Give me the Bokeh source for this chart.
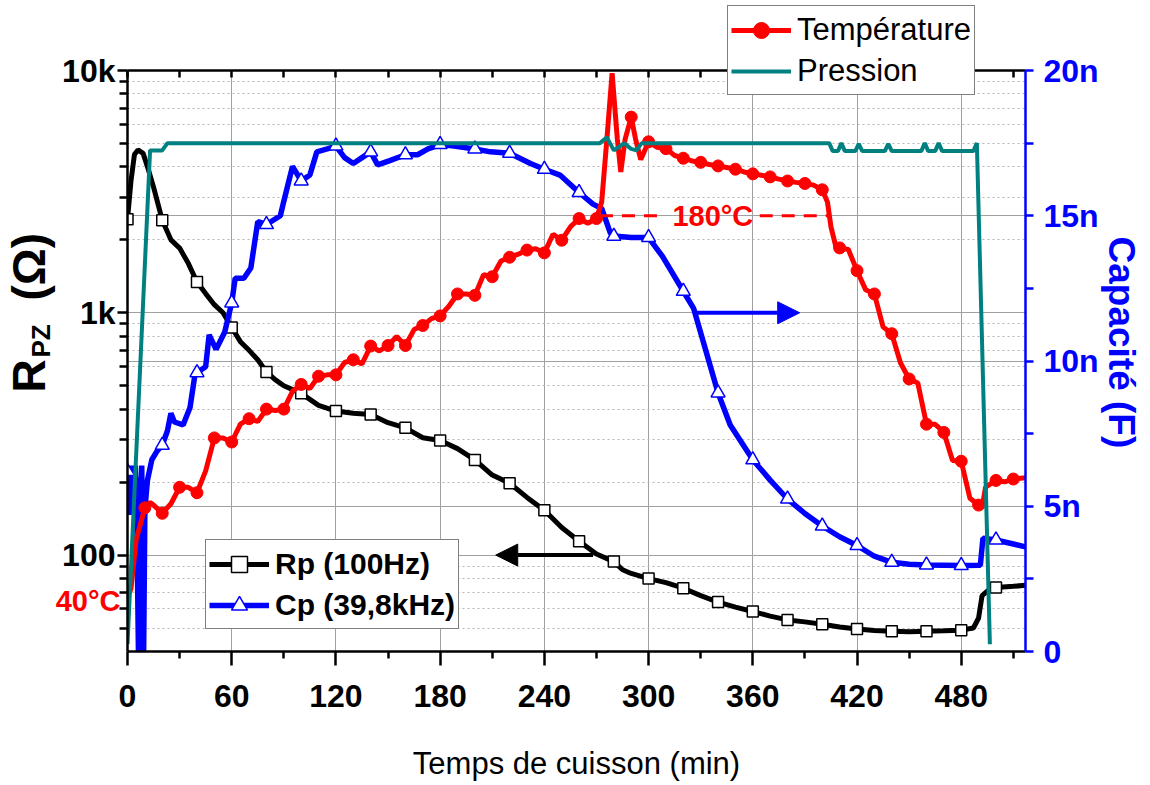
import numpy as np
from math import pi
from bokeh.plotting import figure
from bokeh.layouts import column
from bokeh.models import (Range1d, LinearAxis, LinearScale, FixedTicker, Grid, Legend,
                          LegendItem, Label, Arrow, NormalHead)
from bokeh.embed import file_html
from bokeh.resources import INLINE

FONT = "Liberation Sans"

# ---------------- data ----------------
# Rp (100 Hz) resistance, ohms (left log axis)
rp_t = [0, 2, 4, 6, 9, 12, 15, 20, 25, 30, 35, 40, 45, 50, 55, 60, 65, 70, 75, 80, 85, 90,
        100, 110, 120, 130, 140, 150, 160, 170, 180, 190, 200, 210, 220, 230, 240, 250, 260,
        270, 280, 285, 290, 300, 310, 320, 330, 340, 350, 360, 370, 380, 390, 400, 410, 420,
        430, 440, 450, 460, 470, 480, 487, 490, 492, 496, 500, 510, 517]
rp_ohm = [2430, 3500, 4500, 4700, 4550, 3900, 3300, 2410, 2000, 1850, 1600, 1340, 1200, 1080,
          1000, 870, 760, 700, 640, 570, 530, 500, 465, 415, 393, 385, 380, 352, 335, 305, 297,
          275, 247, 214, 198, 173, 153, 130, 114, 101, 94, 87, 84, 80, 77, 73, 68, 64, 61, 58.5,
          56, 54, 53, 51.8, 50.5, 49.5, 48.8, 48.5, 48.3, 48.5, 48.7, 49, 50, 55, 68, 72, 73.5,
          74.3, 75]

# Cp (39,8 kHz) capacitance, nF (right axis)
cp_t = [0, 0.8, 1.5, 2.3, 3, 3.8, 4.5, 5.3, 6.3, 6.8, 7.5, 8.2, 9.3, 10, 11.5, 14, 17, 20, 23,
        25, 27, 32, 36, 39, 40, 45, 47, 51, 56, 60, 62, 67, 71, 75, 80, 88, 90, 95, 100, 105,
        109, 115, 120, 125, 130, 135, 140, 144, 151, 160, 167, 173, 180, 188, 200, 209, 220,
        232, 240, 249, 260, 268, 273, 278, 280, 290, 300, 308, 320, 326, 340, 347, 360, 370,
        380, 390, 400, 410, 420, 430, 440, 450, 460, 470, 480, 491, 492.5, 500, 510, 517]
cp_nF = [6.2, 4.7, 6.4, 4.7, 6.3, 4.7, 6.4, 4.8, 0, 6.0, 4.8, 6.4, 0, 4.9, 5.9, 6.6, 6.9, 7.1,
         7.6, 8.2, 7.9, 7.8, 8.4, 9.6, 9.6, 9.8, 10.9, 10.4, 11.0, 12.0, 12.85, 12.85, 13.2,
         14.8, 14.7, 15.0, 15.5, 16.7, 16.2, 16.4, 17.2, 17.3, 17.4, 17.0, 16.8, 17.0, 17.2,
         16.75, 16.9, 17.1, 17.1, 17.3, 17.45, 17.4, 17.3, 17.2, 17.15, 16.8, 16.6, 16.4, 15.8,
         15.4, 15.25, 14.4, 14.3, 14.25, 14.25, 13.6, 12.4, 11.8, 8.9, 7.8, 6.6, 5.9, 5.25,
         4.75, 4.32, 3.95, 3.65, 3.28, 3.07, 3.0, 2.98, 2.97, 2.96, 2.97, 3.9, 3.84, 3.7, 3.6]

# Temperature, degC (hidden axis)
temp_t = [0, 2, 5, 10, 13, 15, 20, 25, 30, 35, 40, 45, 50, 55, 60, 65, 70, 75, 80, 85, 90, 95,
          100, 105, 110, 115, 120, 125, 130, 135, 140, 145, 150, 155, 160, 165, 170, 175, 180,
          185, 190, 195, 200, 205, 210, 215, 220, 225, 230, 235, 240, 245, 250, 255, 260, 265,
          270, 273, 276, 279, 282, 284, 286.5, 290, 292.5, 295.5, 300, 305, 310, 315, 320, 325,
          330, 335, 340, 345, 350, 355, 360, 365, 370, 375, 380, 385, 390, 395, 400, 403, 405,
          408, 410, 415, 420, 425, 430, 435, 440, 445, 450, 455, 460, 465, 470, 475, 480, 485,
          490, 492, 494, 500, 505, 510, 517]
temp_C = [41, 44, 62, 73.5, 75.5, 74.5, 71.5, 75, 81, 81, 79, 87, 99, 99, 97.5, 104, 106, 105,
          109.5, 109, 109.5, 116, 118.5, 117, 121.5, 122, 122, 126.5, 127.5, 126, 132.5, 130.7,
          132.7, 136, 132.7, 138.5, 140, 142.5, 143.5, 147, 151.5, 151.5, 151, 158.5, 157.8,
          163.5, 164.9, 166, 167.5, 168, 166.5, 173.3, 171.1, 176, 179, 177.3, 179, 185, 208,
          232, 208, 196, 208, 216, 208, 200.5, 207, 205, 204.5, 202, 201, 200, 199.5, 198.7,
          198.2, 197.6, 197, 196, 195.3, 194.8, 194.2, 193.4, 192.7, 192.2, 191.8, 191.2, 189.5,
          185, 176, 168.3, 168.3, 167.7, 160, 153, 151.5, 139.5, 137, 126.4, 120.5, 119, 104,
          104, 101, 90.8, 90.5, 77, 74.5, 73.5, 81, 83.5, 83, 84, 84.5]

# Pressure, bar (hidden axis)
pres_t = [0, 13, 20, 23, 272, 276, 280, 283, 286, 290, 293, 296, 404, 406, 409, 411, 413, 419,
          421, 423, 436, 438, 440, 457, 459, 461, 465, 467, 469, 487, 489, 496.5]
pres_bar = [0.1, 6.9, 6.9, 7.0, 7.0, 7.08, 6.9, 6.95, 7.0, 6.92, 6.9, 7.0, 7.0, 6.89, 6.89, 7.0,
            6.89, 6.89, 6.99, 6.89, 6.89, 6.99, 6.89, 6.89, 7.0, 6.89, 6.89, 7.0, 6.89, 6.89,
            7.0, 0.1]

# ticks
x_major = [0, 60, 120, 180, 240, 300, 360, 420, 480]
x_minor = [30, 90, 150, 210, 270, 330, 390, 450, 510]
x_top = [0, 30, 60, 90, 120, 150, 180, 210, 240, 270, 300, 330, 360, 390, 420, 450, 480, 510]
r_major = [100, 1000, 10000]
r_major_labels = ["100", "1k", "10k"]
r_minor = [50, 60, 70, 80, 90, 200, 300, 400, 500, 600, 700, 800, 900,
           2000, 3000, 4000, 5000, 6000, 7000, 8000, 9000]
c_major = [0, 5, 10, 15, 20]
c_major_labels = ["0", "5n", "10n", "15n", "20n"]
c_minor = [2.5, 7.5, 12.5, 17.5]

# annotations
setpoint_C = 180
setpoint_left = [272, 310]
setpoint_right = [364, 404]
setpoint_text_t = 337
arrow_rp = dict(x_start=268, x_end=212, y=100)
arrow_cp = dict(x_start=326, x_end=387, y=1000)

RED = "#ff0000"
BLUE = "#0000ff"
TEAL = "#008080"
GRID = "#a0a0a0"

W, H = 1148, 783

rp_t_a, rp_a = np.array(rp_t), np.array(rp_ohm)
cp_t_a, cp_a = np.array(cp_t), np.array(cp_nF)
tt_a, tc_a = np.array(temp_t), np.array(temp_C)
m_rp = (rp_t_a % 20 == 0)
m_cp = (cp_t_a % 20 == 0)
m_tc = (tt_a % 10 == 0) & (tt_a > 0)

p = figure(width=W, height=H, output_backend="svg", toolbar_location=None,
           x_range=Range1d(0, 517), y_range=Range1d(40, 10000), y_axis_type="log",
           min_border_left=127, min_border_right=123, min_border_top=70,
           min_border_bottom=131)
p.frame_align = False
p.extra_y_ranges = {"cap": Range1d(0, 20), "temp": Range1d(21.1, 233.0),
                    "pres": Range1d(0, 8)}
p.extra_y_scales = {"cap": LinearScale(), "temp": LinearScale(), "pres": LinearScale()}
p.outline_line_color = None
p.background_fill_color = "white"
p.border_fill_color = "white"

# ---- bottom axis
ax_b = p.below[0]
ax_b.ticker = FixedTicker(ticks=x_major, minor_ticks=x_minor)
ax_b.axis_label = "Temps de cuisson (min)"
ax_b.axis_label_text_font = FONT
ax_b.axis_label_text_font_size = "31px"
ax_b.axis_label_text_font_style = "normal"
ax_b.axis_label_text_color = "black"
ax_b.axis_label_standoff = 36
ax_b.major_label_text_font = FONT
ax_b.major_label_text_font_size = "32px"
ax_b.major_label_text_font_style = "bold"
ax_b.major_label_text_color = "black"
ax_b.major_label_standoff = 19
ax_b.major_tick_out = 14
ax_b.major_tick_in = 0
ax_b.minor_tick_out = 7
ax_b.minor_tick_in = 0
ax_b.axis_line_width = 2.5
ax_b.major_tick_line_width = 2.5
ax_b.minor_tick_line_width = 2.5

# ---- left axis
ax_l = p.left[0]
ax_l.ticker = FixedTicker(ticks=r_major, minor_ticks=r_minor)
ax_l.major_label_overrides = dict(zip(r_major, r_major_labels))
ax_l.major_label_text_font = FONT
ax_l.major_label_text_font_size = "32px"
ax_l.major_label_text_font_style = "bold"
ax_l.major_label_text_color = "black"
ax_l.major_label_standoff = 2
ax_l.major_tick_out = 10
ax_l.major_tick_in = 0
ax_l.minor_tick_out = 8
ax_l.minor_tick_in = 0
ax_l.axis_line_width = 2.5
ax_l.major_tick_line_width = 2.5
ax_l.minor_tick_line_width = 2.5

# ---- grids
p.xgrid.ticker = FixedTicker(ticks=x_major[1:])
p.xgrid.grid_line_color = GRID
p.xgrid.grid_line_width = 1
p.ygrid.ticker = FixedTicker(ticks=r_major, minor_ticks=r_minor)
p.ygrid.grid_line_color = GRID
p.ygrid.grid_line_width = 1
p.ygrid.minor_grid_line_color = "#b4b4b4"
p.ygrid.minor_grid_line_dash = "2 3"
p.ygrid.minor_grid_line_width = 1
cap_grid = Grid(dimension=1, y_range_name="cap", ticker=FixedTicker(ticks=c_major[1:-1]),
                grid_line_color=GRID, grid_line_width=1)
p.add_layout(cap_grid)

# ---- right axis (capacitance)
ax_r = LinearAxis(y_range_name="cap", ticker=FixedTicker(ticks=c_major, minor_ticks=c_minor))
ax_r.major_label_overrides = dict(zip(c_major, c_major_labels))
ax_r.major_label_text_font = FONT
ax_r.major_label_text_font_size = "32px"
ax_r.major_label_text_font_style = "bold"
ax_r.major_label_text_color = BLUE
ax_r.major_label_standoff = 10
ax_r.axis_line_color = BLUE
ax_r.major_tick_line_color = BLUE
ax_r.minor_tick_line_color = BLUE
ax_r.axis_line_width = 2.5
ax_r.major_tick_line_width = 2.5
ax_r.minor_tick_line_width = 2.5
ax_r.major_tick_out = 8
ax_r.major_tick_in = 0
ax_r.minor_tick_out = 8
ax_r.minor_tick_in = 0
p.add_layout(ax_r, "right")

# ---- top axis (ticks only)
ax_t = LinearAxis(ticker=FixedTicker(ticks=x_top))
ax_t.major_label_overrides = {t: "" for t in x_top}
ax_t.major_label_text_font_size = "1px"
ax_t.major_tick_in = 7
ax_t.major_tick_out = 0
ax_t.minor_tick_line_color = None
ax_t.axis_line_width = 2.5
ax_t.major_tick_line_width = 2.5
p.add_layout(ax_t, "above")

# ---- series
r_rp = p.line(rp_t, rp_ohm, line_color="black", line_width=5)
r_rp_m = p.scatter(rp_t_a[m_rp], rp_a[m_rp], marker="square", size=11,
                   fill_color="white", line_color="black", line_width=1.5)

r_cp = p.line(cp_t, cp_nF, y_range_name="cap", line_color=BLUE, line_width=5.5)
r_cp_m = p.scatter(cp_t_a[m_cp], cp_a[m_cp], y_range_name="cap", marker="triangle", size=14,
                   fill_color="white", line_color=BLUE, line_width=1.5)

r_tc = p.line(temp_t, temp_C, y_range_name="temp", line_color=RED, line_width=5)
r_tc_m = p.scatter(tt_a[m_tc], tc_a[m_tc], y_range_name="temp", marker="circle", size=12,
                   fill_color=RED, line_color=RED)

r_pr = p.line(pres_t, pres_bar, y_range_name="pres", line_color=TEAL, line_width=4)

# setpoint dashed line + text
for seg in (setpoint_left, setpoint_right):
    p.line(seg, [setpoint_C, setpoint_C], y_range_name="temp", line_color=RED,
           line_width=3, line_dash="13 9")
p.add_layout(Label(x=setpoint_text_t, y=setpoint_C, y_range_name="temp", text="180°C",
                   text_align="center", text_baseline="middle", text_color=RED,
                   text_font=FONT, text_font_size="29px", text_font_style="bold"))

# arrows
p.add_layout(Arrow(end=NormalHead(size=22, fill_color="black", line_color="black"),
                   x_start=arrow_rp["x_start"], y_start=arrow_rp["y"],
                   x_end=arrow_rp["x_end"], y_end=arrow_rp["y"],
                   line_color="black", line_width=4))
p.add_layout(Arrow(end=NormalHead(size=22, fill_color=BLUE, line_color=BLUE),
                   x_start=arrow_cp["x_start"], y_start=arrow_cp["y"],
                   x_end=arrow_cp["x_end"], y_end=arrow_cp["y"],
                   line_color=BLUE, line_width=4))

# lower legend (inside the frame)
leg2 = Legend(items=[LegendItem(label="Rp (100Hz)", renderers=[r_rp, r_rp_m]),
                     LegendItem(label="Cp (39,8kHz)", renderers=[r_cp, r_cp_m])],
              location=(78, 22))

# ---------------- overlay canvas for texts outside the frame ----------------
q = figure(width=W, height=H, output_backend="svg", toolbar_location=None,
           x_range=Range1d(0, W), y_range=Range1d(0, H),
           x_axis_location=None, y_axis_location=None, min_border=0)
q.frame_align = False
q.grid.visible = False
q.outline_line_color = None
q.background_fill_color = None
q.border_fill_color = None
q.styles = {"position": "absolute", "left": "0px", "top": "0px"}

# R_PZ (Ω) rotated axis title
for txt, x, y, size in [("R", 28, H - 392, "46px"), ("PZ", 40, H - 357, "26px"),
                        ("(Ω)", 28, H - 300, "46px")]:
    q.add_layout(Label(x=x, y=y, x_units="screen", y_units="screen", text=txt,
                       angle=pi / 2, text_align="left", text_baseline="alphabetic",
                       text_font=FONT, text_font_size=size, text_font_style="bold",
                       text_color="black"))
# right axis title
q.add_layout(Label(x=1121, y=H - 236, x_units="screen", y_units="screen",
                   text="Capacité (F)", angle=-pi / 2, text_align="left",
                   text_baseline="alphabetic", text_font=FONT, text_font_size="37px",
                   text_font_style="bold", text_color=BLUE))
# 40 °C start marker label
q.add_layout(Label(x=120, y=H - 600, x_units="screen", y_units="screen", text="40°C",
                   text_align="right", text_baseline="middle", text_color=RED,
                   text_font=FONT, text_font_size="29px", text_font_style="bold"))

# upper legend (overlaps the frame top); legend-only renderers hold no visible data
nan_pt = [np.nan]
d_tc = q.line(nan_pt, nan_pt, line_color=RED, line_width=5)
d_tc_m = q.scatter(nan_pt, nan_pt, marker="circle", size=12, fill_color=RED, line_color=RED)
d_pr = q.line(nan_pt, nan_pt, line_color=TEAL, line_width=4)
leg1 = Legend(items=[LegendItem(label="Température", renderers=[d_tc, d_tc_m]),
                     LegendItem(label="Pression", renderers=[d_pr])],
              location=(727, H - 95))

for lg, plot, style, size in [(leg1, q, "normal", "31px"), (leg2, p, "bold", "30px")]:
    lg.label_text_font = FONT
    lg.label_text_font_size = size
    lg.label_text_font_style = style
    lg.label_text_color = "black"
    lg.glyph_width = 60
    lg.glyph_height = 40
    lg.label_height = 41
    lg.label_standoff = 6
    lg.spacing = 0
    lg.padding = 3
    lg.margin = 0
    lg.border_line_color = "black"
    lg.border_line_width = 1.5
    lg.background_fill_color = "white"
    lg.background_fill_alpha = 1
    plot.add_layout(lg)

root = column(p, q)
open("out.html", "w").write(file_html(root, INLINE))
